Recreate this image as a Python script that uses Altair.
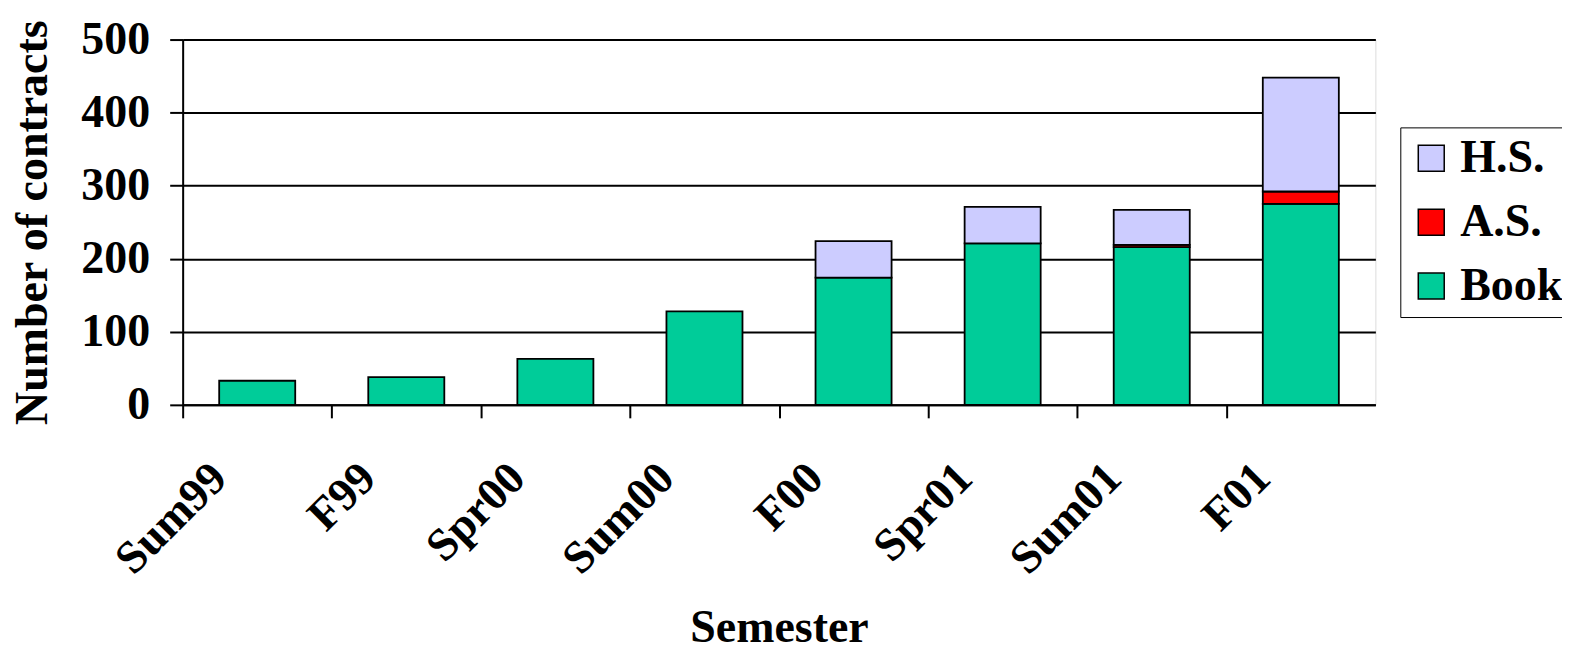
import altair as alt
import pandas as pd

semesters = ["Sum99", "F99", "Spr00", "Sum00", "F00", "Spr01", "Sum01", "F01"]
book = [33, 38, 63, 128, 174, 221, 216, 275]
a_s = [0, 0, 0, 0, 0, 0, 3, 17]
h_s = [0, 0, 0, 0, 50, 50, 48, 156]

series_names = ["H.S.", "A.S.", "Book"]
series_colors = ["#CCCCFF", "#FF0000", "#00CC99"]
stack_rank = {"Book": 0, "A.S.": 1, "H.S.": 2}

rows = []
for i, s in enumerate(semesters):
    for name, vals in (("Book", book), ("A.S.", a_s), ("H.S.", h_s)):
        if vals[i] > 0:
            rows.append({"Semester": s, "Type": name, "Count": vals[i], "rank": stack_rank[name]})
df = pd.DataFrame(rows)

FONT = "Liberation Serif"
FS = 46
W = 1195
STEP = W / len(semesters)

chart = alt.Chart(df).mark_bar(stroke="black", strokeWidth=1.8).encode(
    x=alt.X("Semester:N", sort=semesters,
            scale=alt.Scale(paddingInner=0.49, paddingOuter=0.245),
            axis=alt.Axis(title="Semester", labelAngle=-45, tickOffset=-STEP / 2,
                          tickSize=13, tickColor="black", tickWidth=2,
                          domainColor="black", domainWidth=2,
                          labelFont=FONT, labelFontSize=FS, labelFontWeight="bold",
                          labelColor="black", labelPadding=37, labelOffset=STEP / 2 - 54,
                          titleFont=FONT, titleFontSize=FS, titleFontWeight="bold",
                          titleColor="black", titlePadding=23)),
    y=alt.Y("Count:Q", stack="zero",
            scale=alt.Scale(domain=[0, 500], nice=False),
            axis=alt.Axis(title="Number of contracts", values=[0, 100, 200, 300, 400, 500],
                          grid=True, gridColor="black", gridWidth=2, gridOpacity=1,
                          tickSize=13, tickColor="black", tickWidth=2,
                          domainColor="black", domainWidth=2,
                          labelFont=FONT, labelFontSize=FS, labelFontWeight="bold",
                          labelColor="black", labelPadding=20,
                          titleFont=FONT, titleFontSize=FS, titleFontWeight="bold",
                          titleColor="black", titlePadding=24)),
    color=alt.Color("Type:N",
                    scale=alt.Scale(domain=series_names, range=series_colors),
                    legend=alt.Legend(title=None, orient="none", legendX=1220, legendY=88,
                                      symbolType="square", symbolSize=676,
                                      symbolStrokeColor="black", symbolStrokeWidth=1.5,
                                      labelFont=FONT, labelFontSize=FS, labelFontWeight="bold",
                                      labelColor="black", labelOffset=6, rowPadding=18,
                                      padding=8, strokeColor="black", fillColor="white",
                                      labelLimit=300)),
    order=alt.Order("rank:Q", sort="ascending"),
).properties(
    width=W, height=366,
    autosize=alt.AutoSizeParams(type="none"),
    padding={"left": 175, "top": 31, "right": 187, "bottom": 240},
).configure_view(
    stroke="black", strokeWidth=2,
).configure(background="white")

chart.save("out.html", embed_options={"renderer": "svg", "actions": False})
